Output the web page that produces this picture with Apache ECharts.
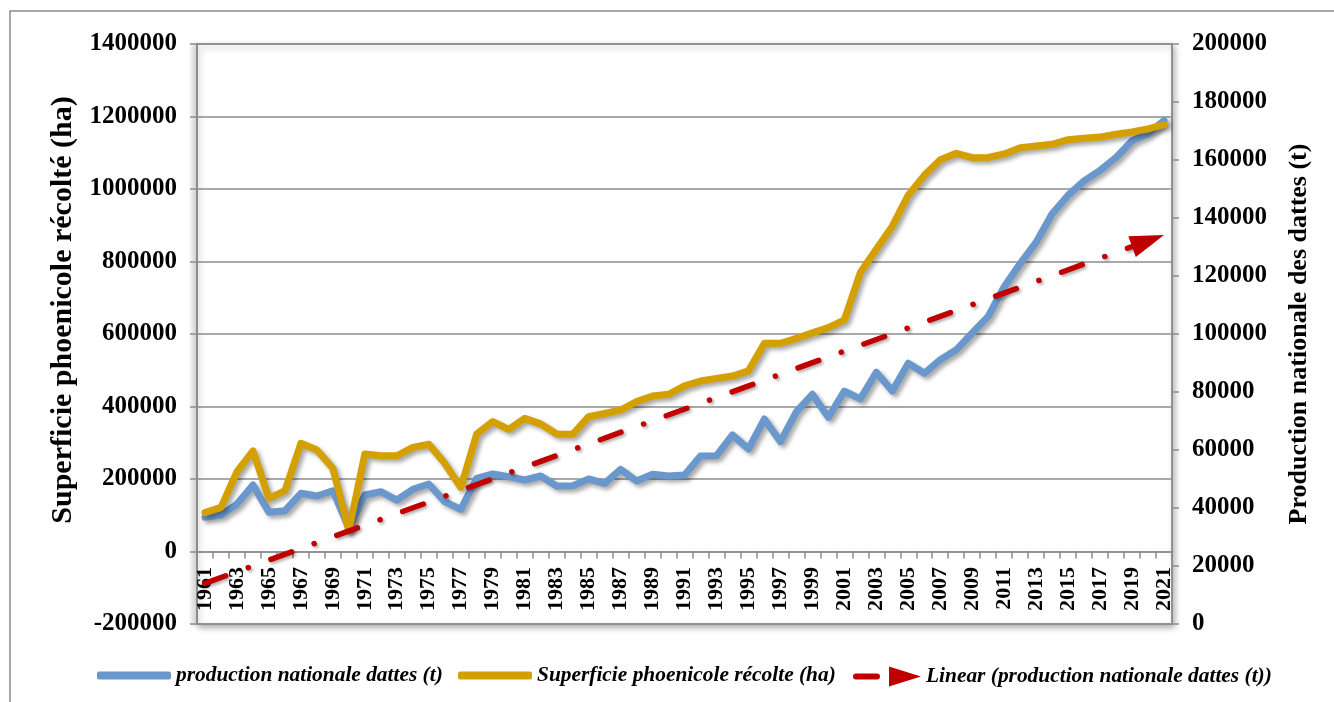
<!DOCTYPE html>
<html><head><meta charset="utf-8">
<script src="https://cdn.jsdelivr.net/npm/echarts@6/dist/echarts.min.js"></script>
<style>html,body{margin:0;padding:0;background:#fff}#c{width:1334px;height:702px}</style>
</head><body><div id="c"></div>
<script>
const years = [];
for (let y = 1961; y <= 2021; y++) years.push(String(y));

// production nationale dattes (t) — left axis
const production = [94300,100700,131000,183400,108100,112600,160500,153100,167700,65000,
 155900,165000,142000,171600,186200,137400,116400,201900,213800,206400,
 197200,208300,180700,181600,200000,188100,226700,194500,212900,208300,
 211000,263400,264300,321400,282800,365500,302900,385700,433700,370000,
 442500,421000,494600,442500,519200,491600,529100,556400,602800,648800,
 730500,794200,853200,931900,982900,1022300,1051600,1086900,1133200,1152800,1189200];

// Superficie phoenicole récolte (ha) — right axis
const superficie = [38400,40200,52500,59700,43300,46000,62300,60000,53700,32200,
 58600,58000,58000,60900,62000,55400,47100,65500,69800,67100,
 70900,69000,65500,65400,71500,72600,73800,76700,78600,79200,
 82100,83800,84700,85500,87300,96800,96800,98500,100400,102200,
 104900,121200,129200,137200,147900,154700,160100,162300,160800,160900,
 162100,164200,164800,165400,167000,167500,167900,168900,169700,170700,172200];

// Linear trend (production) read at its two ends
const trendYears = ['1961', '2021'];
const trendValues = [-87700, 873100];

const leftTicks = {min: -200000, max: 1400000, interval: 200000};
const rightTicks = {min: 0, max: 200000, interval: 20000};

const names = ['production nationale dattes (t)', 'Superficie phoenicole récolte (ha)', 'Linear (production nationale dattes (t))'];
const leftName = 'Superficie phoenicole récolté (ha)';
const rightName = 'Production nationale des dattes (t)';

const FONT = '"Liberation Serif", "Times New Roman", serif';
const BLUE = '#6A98CD', GOLD = '#D4A000', RED = '#C00000', GRID = '#8C8C8C';
const legendText = {fontFamily: FONT, fontSize: 21.4, fontWeight: 'bold', fontStyle: 'italic', color: '#000'};
const plain = v => String(v);

const chart = echarts.init(document.getElementById('c'), null, {renderer: 'canvas'});
chart.setOption({
  animation: false,
  backgroundColor: '#fff',
  graphic: [{type: 'rect', shape: {x: 10, y: 11, width: 1400, height: 800}, style: {fill: 'none', stroke: '#8a8a8a', lineWidth: 1.5}, z: -10}],
  grid: {left: 197, right: 162, top: 44, bottom: 78, show: true, backgroundColor: '#fff', borderColor: GRID, borderWidth: 1.5,
    shadowColor: 'rgba(0,0,0,0.3)', shadowBlur: 6, shadowOffsetX: 2, shadowOffsetY: 3},
  legend: [
    {data: [{name: names[0], icon: 'roundRect'}], left: 92, top: 660, itemWidth: 74, itemHeight: 8, itemGap: 0, textStyle: legendText, selectedMode: false},
    {data: [{name: names[1], icon: 'roundRect'}], left: 453, top: 660, itemWidth: 74, itemHeight: 8, itemGap: 0, textStyle: legendText, selectedMode: false},
    {data: [{name: names[2], icon: 'path://M3,7 L24,7 A3,3 0 0 1 24,13 L3,13 A3,3 0 0 1 3,7 Z M36,0 L68,10 L36,20 Z', itemStyle: {color: RED}}],
     left: 848, top: 661, itemWidth: 68, itemHeight: 20, itemGap: 0, textStyle: legendText, selectedMode: false}
  ],
  xAxis: {
    type: 'category', data: years, boundaryGap: true,
    axisLine: {onZero: true, onZeroAxisIndex: 0, lineStyle: {color: GRID, width: 1.5}},
    axisTick: {show: true, interval: 0, length: 7, lineStyle: {color: GRID, width: 1.5}},
    axisLabel: {interval: 1, rotate: 90, margin: -57, fontFamily: FONT, fontSize: 22, fontWeight: 'bold', color: '#000'},
    splitLine: {show: false}
  },
  yAxis: [
    {type: 'value', min: leftTicks.min, max: leftTicks.max, interval: leftTicks.interval, position: 'left',
     name: leftName, nameLocation: 'middle', nameGap: 119, nameRotate: 90,
     nameTextStyle: {fontFamily: FONT, fontSize: 30, fontWeight: 'bold', color: '#000', padding: [0, 0, 0, 48]},
     axisLine: {show: true, onZero: false, lineStyle: {color: GRID, width: 2, shadowColor: 'rgba(0,0,0,0.35)', shadowBlur: 5, shadowOffsetX: -3}},
     axisTick: {show: true, length: 7, lineStyle: {color: GRID, width: 1.5}},
     axisLabel: {margin: 20, formatter: plain, fontFamily: FONT, fontSize: 25, fontWeight: 'bold', color: '#000'},
     splitLine: {show: true, lineStyle: {color: GRID, width: 1.5}}},
    {type: 'value', min: rightTicks.min, max: rightTicks.max, interval: rightTicks.interval, position: 'right',
     name: rightName, nameLocation: 'middle', nameGap: 114, nameRotate: 90,
     nameTextStyle: {fontFamily: FONT, fontSize: 26, fontWeight: 'bold', color: '#000'},
     axisLine: {show: true, onZero: false, lineStyle: {color: GRID, width: 1.5}},
     axisTick: {show: true, length: 7, lineStyle: {color: GRID, width: 1.5}},
     axisLabel: {margin: 20, formatter: plain, fontFamily: FONT, fontSize: 25, fontWeight: 'bold', color: '#000'},
     splitLine: {show: false}}
  ],
  series: [
    {name: names[0], type: 'line', yAxisIndex: 0, data: production, symbol: 'none', z: 2,
     itemStyle: {color: BLUE},
     lineStyle: {color: BLUE, width: 7, cap: 'round', join: 'round', shadowColor: 'rgba(0,0,0,0.35)', shadowBlur: 4, shadowOffsetX: 3, shadowOffsetY: 3}},
    {name: names[1], type: 'line', yAxisIndex: 1, data: superficie, symbol: 'none', z: 3,
     itemStyle: {color: GOLD},
     lineStyle: {color: GOLD, width: 7, cap: 'round', join: 'round', shadowColor: 'rgba(0,0,0,0.35)', shadowBlur: 4, shadowOffsetX: 3, shadowOffsetY: 3}},
    {name: names[2], type: 'line', yAxisIndex: 0, data: [], z: 4, itemStyle: {color: RED}, lineStyle: {color: RED},
     markLine: {silent: true, animation: false, symbol: ['none', 'triangle'], symbolSize: [22, 34], symbolOffset: [0, [0, 17]],
       label: {show: false}, emphasis: {disabled: true},
       lineStyle: {color: RED, width: 5.5, type: [22, 24, 0.1, 24], cap: 'round', shadowColor: 'rgba(0,0,0,0.3)', shadowBlur: 3, shadowOffsetX: 2, shadowOffsetY: 2},
       data: [[{coord: [trendYears[0], trendValues[0]]}, {coord: [trendYears[1], trendValues[1]]}]]}}
  ]
});
</script></body></html>
